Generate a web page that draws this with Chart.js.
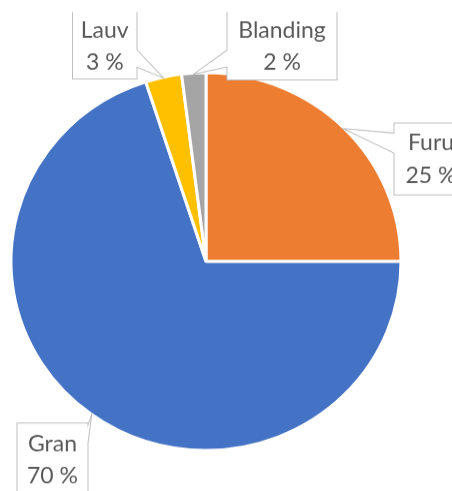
<!DOCTYPE html>
<html>
<head>
<meta charset="utf-8">
<script src="https://cdn.jsdelivr.net/npm/chart.js@4.4.1/dist/chart.umd.min.js"></script>
<style>
  html, body { margin: 0; padding: 0; background: #ffffff; overflow: hidden; }
  #wrap { width: 452px; height: 491px; overflow: hidden; position: relative; }
  #c { display: block; width: 452px; height: 507px; transform: scaleY(0.9685); transform-origin: 0 0; }
</style>
</head>
<body>
<div id="wrap"><canvas id="c" width="452" height="507"></canvas></div>
<script>
// ---- data ----
const categories = ['Furu', 'Gran', 'Lauv', 'Blanding'];
const values = [25, 70, 3, 2];
const sliceColors = ['#ED7D31', '#4472C4', '#FFC000', '#A5A5A5'];

// ---- layout of the callout boxes (reference pixel coords) ----
const SY = 0.9685;
const callouts = [
  { l: 394, r: 468, t: 123, b: 195, side: 'left',  w1: 133, w2: 153, base1: 150.5, base2: 183, top: true },
  { l: 17,  r: 88,  t: 423, b: 520, side: 'right', w1: 425, w2: 443, base1: 451.5, base2: 483.5, top: true },
  { l: 72.5, r: 137, t: 12, b: 79,  side: 'right', w1: 50,  w2: 67,  base1: 37.7, base2: 70, top: false },
  { l: 227, r: 337, t: 12, b: 80,  side: 'left',  w1: 50,  w2: 67,  base1: 37.7, base2: 70, top: false }
];

const calloutPlugin = {
  id: 'callouts',
  afterDatasetsDraw(chart) {
    const ctx = chart.ctx;
    const meta = chart.getDatasetMeta(0);
    const ds = chart.data.datasets[0].data;
    const total = ds.reduce((a, b) => a + b, 0);
    ctx.save();
    ctx.scale(1, 1 / SY);
    meta.data.forEach((arc, i) => {
      const c = callouts[i];
      const mid = (arc.startAngle + arc.endAngle) / 2;
      const R = arc.outerRadius - 1;
      const tx = arc.x + Math.cos(mid) * R;
      const ty = (arc.y + Math.sin(mid) * R) * SY;
      ctx.beginPath();
      if (c.side === 'right') {
        ctx.moveTo(c.l, c.t);
        ctx.lineTo(c.l, c.b);
        ctx.lineTo(c.r, c.b);
        ctx.lineTo(c.r, c.w2);
        ctx.lineTo(tx, ty);
        ctx.lineTo(c.r, c.w1);
        ctx.lineTo(c.r, c.t);
      } else {
        ctx.moveTo(c.r, c.t);
        ctx.lineTo(c.r, c.b);
        ctx.lineTo(c.l, c.b);
        ctx.lineTo(c.l, c.w2);
        ctx.lineTo(tx, ty);
        ctx.lineTo(c.l, c.w1);
        ctx.lineTo(c.l, c.t);
      }
      if (c.top) ctx.closePath();
      ctx.fillStyle = '#ffffff';
      ctx.fill();
      ctx.strokeStyle = '#BFBFBF';
      ctx.lineWidth = 1;
      ctx.stroke();
      const cx = (c.l + c.r) / 2;
      ctx.fillStyle = '#595959';
      ctx.font = '23px Lato, "Open Sans", sans-serif';
      ctx.textAlign = 'center';
      ctx.textBaseline = 'alphabetic';
      ctx.fillText(chart.data.labels[i], cx, c.base1);
      ctx.fillText(Math.round(ds[i] / total * 100) + ' %', cx, c.base2);
    });
    ctx.restore();
  }
};

new Chart(document.getElementById('c'), {
  type: 'pie',
  data: {
    labels: categories,
    datasets: [{
      data: values,
      backgroundColor: sliceColors,
      borderColor: '#ffffff',
      borderWidth: 3,
      hoverOffset: 0
    }]
  },
  options: {
    responsive: false,
    animation: false,
    events: [],
    devicePixelRatio: 1,
    radius: 195,
    layout: { padding: { left: 0, right: 40, top: 33, bottom: 0 } },
    plugins: {
      legend: { display: false },
      title: { display: false },
      tooltip: { enabled: false }
    }
  },
  plugins: [calloutPlugin]
});
</script>
</body>
</html>
